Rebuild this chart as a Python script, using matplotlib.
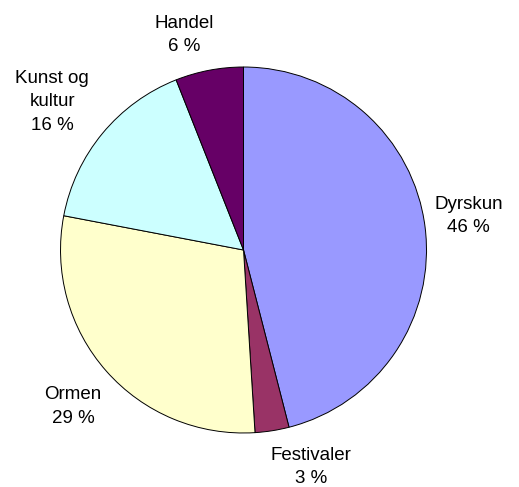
import matplotlib
matplotlib.use("Agg")
import matplotlib.pyplot as plt
import numpy as np

categories = ["Dyrskun", "Festivaler", "Ormen", "Kunst og\nkultur", "Handel"]
values = [46, 3, 29, 16, 6]
colors = ["#9999FF", "#993366", "#FFFFCC", "#CCFFFF", "#660066"]

# label layout: radial distance and angular offset from the wedge's mid angle
label_dist = [1.244, 1.241, 1.265, 1.322, 1.219]
label_dang = [1.4, 8.2, 1.2, 1.8, 4.7]

plt.rcParams['font.family'] = ['Liberation Sans', 'DejaVu Sans']

fig = plt.figure(figsize=(5.19, 4.87), dpi=100)
ax = fig.add_axes([0.1166, 0.1109, 0.7052, 0.7515])
total = sum(values)
labels = [f"{c}\n{round(v / total * 100):d} %" for c, v in zip(categories, values)]
wedges, texts = ax.pie(values, labels=labels, colors=colors, startangle=90,
                       counterclock=False, labeldistance=1.25,
                       wedgeprops=dict(edgecolor="black", linewidth=0.7),
                       textprops=dict(fontsize=13.5))
ang = 90
for t, v, d, da in zip(texts, values, label_dist, label_dang):
    span = v / total * 360
    mid = np.deg2rad(ang - span / 2 + da)
    ang -= span
    t.set_position((d * np.cos(mid), d * np.sin(mid)))
    t.set_ha("center")
    t.set_va("center")
    t.set_multialignment("center")
    t.set_linespacing(1.5)
    t.set_clip_on(False)
ax.set_xlim(-1, 1)
ax.set_ylim(-1, 1)
ax.set_aspect("auto")
fig.savefig("out.png", dpi=100)
